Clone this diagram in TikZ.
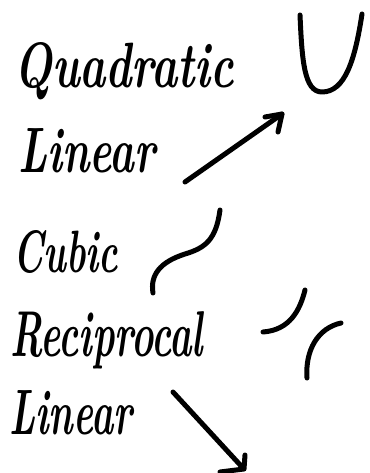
\documentclass[tikz,border=0pt]{standalone}
\begin{document}
\begin{tikzpicture}[x=1pt,y=-1pt,
  hand/.style={line width=5pt,line cap=round,line join=round},
  word/.style={anchor=base west,inner sep=0pt,font=\bfseries\itshape}]
\useasboundingbox (0,0) rectangle (369,473);
\fill[white] (0,0) rectangle (369,473);
\node[word] (q) at (14,88) {\resizebox{220pt}{45pt}{Quadratic}};
\node[word] (l1) at (18,172) {\resizebox{137pt}{44pt}{Linear}};
\node[word] (c) at (13,272) {\resizebox{105pt}{42pt}{Cubic}};
\node[word] (r) at (10,356) {\resizebox{193pt}{45pt}{Reciprocal}};
\node[word] (l2) at (9,434) {\resizebox{123pt}{44pt}{Linear}};
% U parabola
\draw[hand] (300,15) .. controls (302,60) and (304,92) .. (322,92) .. controls (345,92) and (355,60) .. (362,14);
% linear up arrow
\draw[hand] (185,182) -- (282,114);
\draw[hand] (265,117) -- (282,114) -- (278,132);
% cubic
\draw[hand] (220,210) .. controls (216,240) and (205,248) .. (185,254) .. controls (160,262) and (150,275) .. (153,293);
% reciprocal
\draw[hand] (305,290) .. controls (300,310) and (290,330) .. (263,332);
\draw[hand] (341,323) .. controls (318,328) and (305,350) .. (307,378);
% linear down arrow
\draw[hand] (173,392) -- (243,468);
\draw[hand] (245,455) -- (244,469) -- (220,472);
\end{tikzpicture}
\end{document}
